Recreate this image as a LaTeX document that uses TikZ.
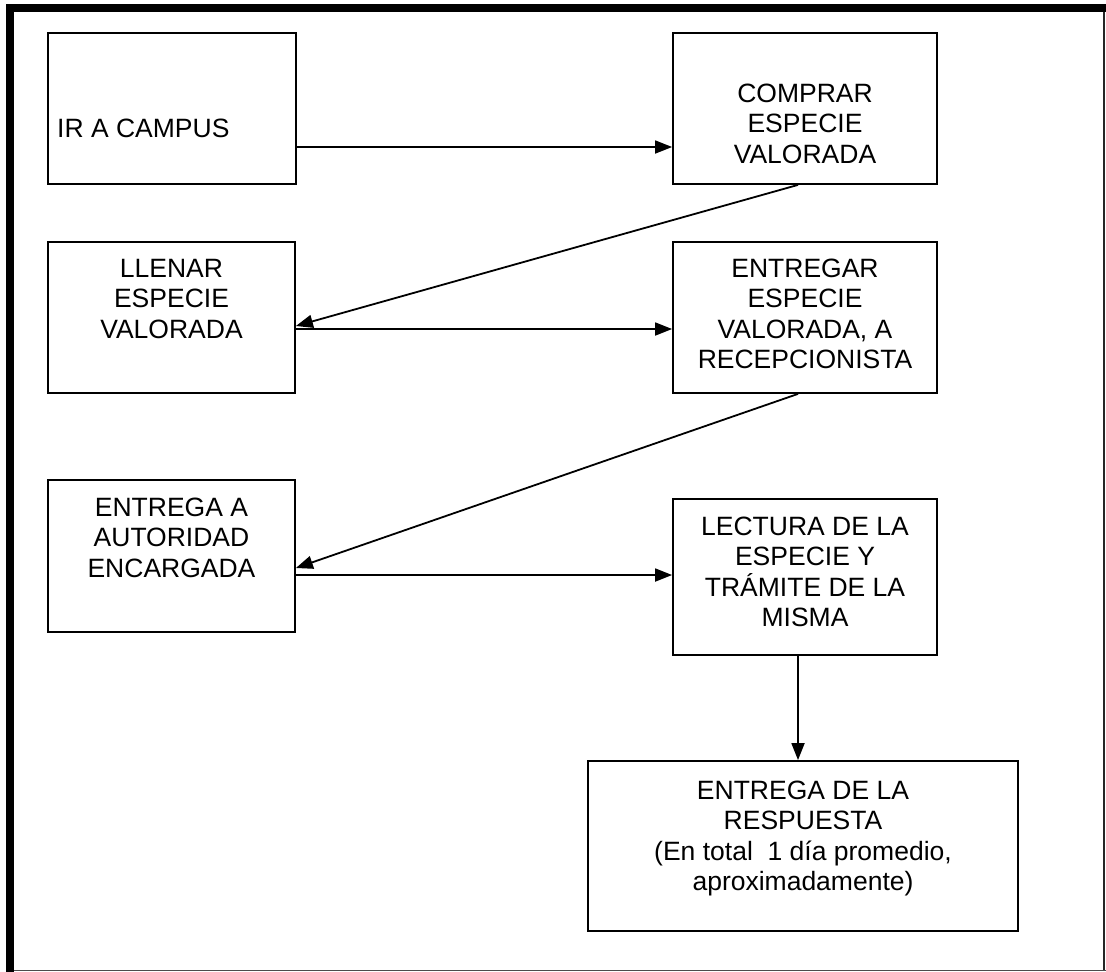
\documentclass[tikz,border=0pt]{standalone}
\usepackage{fontspec}
\setmainfont{Liberation Sans}
\usetikzlibrary{arrows.meta}
\begin{document}
\begin{tikzpicture}[x={(1pt,0)},y={(0,-1pt)},
  box/.style={draw=black,line width=1.8pt,inner sep=0pt,minimum width=#1},
  lbl/.style={anchor=base,align=center,inner sep=0pt,font=\fontsize{26.5}{30.5}\selectfont},
  arr/.style={line width=1.8pt,-{Triangle[length=17pt,width=13pt]}}]
\useasboundingbox (0,0) rectangle (1106,972);
% frame
\fill[black] (6,4) rectangle (1106,12);
\fill[black] (6,4) rectangle (14,972);
\draw[line width=1.6pt,black!85] (1104,12) -- (1104,971);
\draw[line width=1.6pt,black!70] (14,970.5) -- (1106,970.5);
% boxes
\node[box=248pt,minimum height=151pt] (A) at (172,108.5) {};
\node[box=264pt,minimum height=151pt] (B) at (805,108.5) {};
\node[box=247pt,minimum height=151pt] (C) at (171.5,317.5) {};
\node[box=264pt,minimum height=151pt] (D) at (805,317.5) {};
\node[box=247pt,minimum height=152pt] (E) at (171.5,556) {};
\node[box=264pt,minimum height=156pt] (F) at (805,577) {};
\node[box=430pt,minimum height=170pt] (G) at (803,846) {};
% texts (anchor base = last line)
\node[lbl,anchor=base west] (tA) at (57,137) {IR A CAMPUS};
\node[lbl] (tB) at (805,163) {COMPRAR\\ESPECIE\\VALORADA};
\node[lbl] (tC) at (171.5,338) {LLENAR\\ESPECIE\\VALORADA};
\node[lbl] (tD) at (805,368.5) {ENTREGAR\\ESPECIE\\VALORADA, A\\RECEPCIONISTA};
\node[lbl] (tE) at (171.5,577) {ENTREGA A\\AUTORIDAD\\ENCARGADA};
\node[lbl] (tF) at (805,626.5) {LECTURA DE LA\\ESPECIE Y\\TRÁMITE DE LA\\MISMA};
\node[lbl] (tG) at (803,890.5) {ENTREGA DE LA\\RESPUESTA\\(En total\ \ 1 día promedio,\\aproximadamente)};
% connectors
\draw[arr] (A.east |- 0,147) -- (B.west |- 0,147);
\draw[arr] (798,0 |- B.south) -- (C.east |- 0,326);
\draw[arr] (C.east |- 0,329) -- (D.west |- 0,329);
\draw[arr] (798,0 |- D.south) -- (E.east |- 0,568);
\draw[arr] (E.east |- 0,575) -- (F.west |- 0,575);
\draw[arr] (798,0 |- F.south) -- (798,0 |- G.north);
\end{tikzpicture}
\end{document}
